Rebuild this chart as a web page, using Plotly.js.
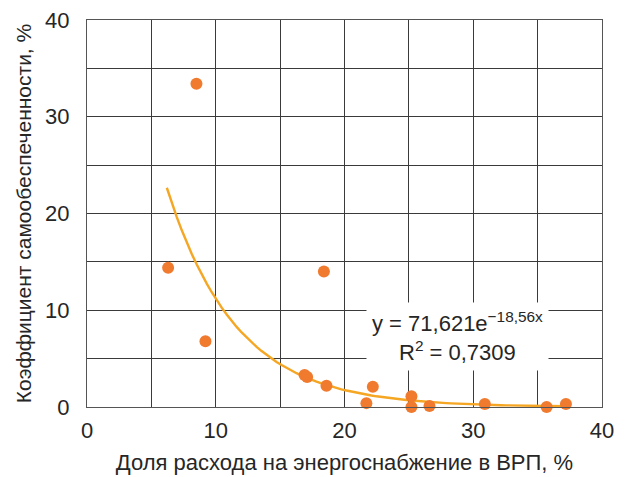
<!DOCTYPE html>
<html><head><meta charset="utf-8">
<script src="https://cdn.plot.ly/plotly-3.0.1.min.js"></script>
<style>html,body{margin:0;padding:0;background:#fff}#chart{width:632px;height:477px}</style>
</head><body><div id="chart"></div>
<script>
// Data
const shareX = [6.3, 8.5, 9.2, 16.9, 17.1, 18.4, 18.6, 21.7, 22.2, 25.2, 25.2, 26.6, 30.9, 35.7, 37.2];
const selfY  = [14.4, 33.4, 6.8, 3.3, 3.1, 14.0, 2.2, 0.4, 2.1, 1.1, 0.0, 0.1, 0.3, 0.0, 0.3];
// Trendline: y = 71.621 * exp(-18.56 * x), x as fraction
const trendA = 71.621, trendB = -18.56;
const trendStart = 6.2, trendEnd = 37.2, trendSteps = 80;
const xTicks = [0, 10, 20, 30, 40];
const yTicks = [0, 10, 20, 30, 40];

const tx = [], ty = [];
for (let i = 0; i <= trendSteps; i++) {
  const x = trendStart + (trendEnd - trendStart) * i / trendSteps;
  tx.push(x); ty.push(trendA * Math.exp(trendB * x / 100));
}

const font = "Liberation Sans, Arial, sans-serif";
const gridC = "#3a3a3a";
const txtC = "#262626";
const data = [
  {x: tx, y: ty, mode: "lines", line: {color: "#F5A623", width: 2.4}, hoverinfo: "skip"},
  {x: shareX, y: selfY, mode: "markers", marker: {color: "#F07A2E", size: 12}, cliponaxis: false}
];
const layout = {
  width: 632, height: 477,
  margin: {l: 87, r: 30, t: 20, b: 70},
  paper_bgcolor: "#fff", plot_bgcolor: "#fff",
  showlegend: false,
  font: {family: font, color: txtC},
  xaxis: {
    range: [0, 40], tickvals: xTicks, ticktext: xTicks.map(String),
    showgrid: true, gridcolor: gridC, gridwidth: 1,
    minor: {dtick: 5, showgrid: true, gridcolor: gridC, gridwidth: 1},
    showline: true, linecolor: "#555", linewidth: 1, mirror: true,
    zeroline: false, ticks: "outside", ticklen: 4, tickcolor: "rgba(0,0,0,0)",
    tickfont: {size: 22, family: font, color: txtC},
    title: {text: "Доля расхода на энергоснабжение в ВРП, %", font: {size: 22, family: font, color: txtC}, standoff: 12}
  },
  yaxis: {
    range: [0, 40], tickvals: yTicks, ticktext: yTicks.map(String),
    showgrid: true, gridcolor: gridC, gridwidth: 1,
    minor: {dtick: 5, showgrid: true, gridcolor: gridC, gridwidth: 1},
    showline: true, linecolor: "#555", linewidth: 1, mirror: true,
    zeroline: false, ticks: "outside", ticklen: 12, tickcolor: "rgba(0,0,0,0)",
    tickfont: {size: 22, family: font, color: txtC},
    title: {text: "Коэффициент самообеспеченности, %", font: {size: 21, family: font, color: txtC}, standoff: 7}
  },
  annotations: [{
    x: 28.8, y: 7.25, xref: "x", yref: "y", showarrow: false,
    text: "y = 71,621e<sup>−18,56x</sup><br>R<sup>2</sup> = 0,7309",
    font: {size: 22, family: font, color: txtC},
    bgcolor: "#ffffff", borderpad: 5, align: "center"
  }]
};
Plotly.newPlot("chart", data, layout, {displayModeBar: false, staticPlot: true});
</script></body></html>
